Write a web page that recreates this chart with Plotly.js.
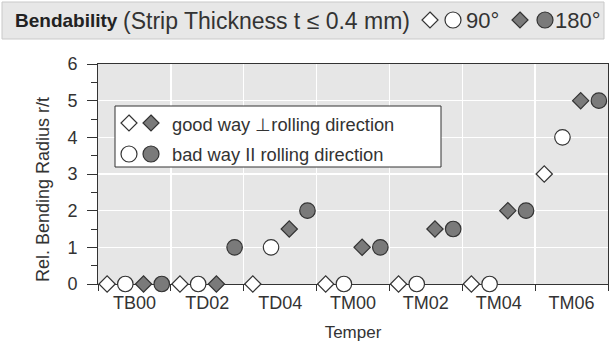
<!DOCTYPE html>
<html>
<head>
<meta charset="utf-8">
<script src="https://cdn.plot.ly/plotly-3.0.1.min.js"></script>
<style>html,body{margin:0;padding:0;background:#fff;}#chart{width:611px;height:342px;}</style>
</head>
<body>
<div id="chart"></div>
<script>
// ---- data ----
const categories = ['TB00', 'TD02', 'TD04', 'TM00', 'TM02', 'TM04', 'TM06'];
const goodWay90  = [0, 0, 0,   0, 0,   0, 3];   // open diamond
const badWay90   = [0, 0, 1,   0, 0,   0, 4];   // open circle
const goodWay180 = [0, 0, 1.5, 1, 1.5, 2, 5];   // filled diamond
const badWay180  = [0, 1, 2,   1, 1.5, 2, 5];   // filled circle
const yTicks = [0, 1, 2, 3, 4, 5, 6];

// ---- style ----
const DARK = '#333333';
const GREY_FILL = '#7a7a7a';
const FONT = 'Liberation Sans, Arial, sans-serif';
const W = 611, H = 342;
const M = {l: 98, r: 3, t: 64, b: 58};
const PW = W - M.l - M.r, PH = H - M.t - M.b;
const fx = px => (px - M.l) / PW;
const fy = py => (H - M.b - py) / PH;

function mk(symbol, fill) {
  return {symbol: symbol, size: symbol === 'diamond' ? 12.5 : 15.5, color: fill,
          line: {color: DARK, width: 1.2}};
}
const series = [
  {y: goodWay90,  m: mk('diamond', '#ffffff')},
  {y: badWay90,   m: mk('circle', '#ffffff')},
  {y: goodWay180, m: mk('diamond', GREY_FILL)},
  {y: badWay180,  m: mk('circle', GREY_FILL)}
];
const traces = series.map((s, i) => ({
  type: 'scatter', mode: 'markers', x: categories, y: s.y,
  offsetgroup: 'g' + i, marker: s.m, cliponaxis: false,
  showlegend: false, hoverinfo: 'x+y'
}));

// legend-key glyphs as pixel-sized shapes
function keyShape(kind, fill, px, py) {
  const base = {xref: 'paper', yref: 'paper', xsizemode: 'pixel', ysizemode: 'pixel',
    xanchor: fx(px), yanchor: fy(py), fillcolor: fill, line: {color: DARK, width: 1.2}, layer: 'above'};
  if (kind === 'circle') return Object.assign(base, {type: 'circle', x0: -8, x1: 8, y0: -8, y1: 8});
  return Object.assign(base, {type: 'path', path: 'M0,8 L8,0 L0,-8 L-8,0 Z'});
}

const shapes = [
  {type: 'rect', xref: 'paper', yref: 'paper', x0: fx(2), x1: fx(604), y0: fy(39), y1: fy(2),
   fillcolor: '#e7e7e7', line: {color: '#c9c9c9', width: 1}, layer: 'above'},
  {type: 'rect', xref: 'paper', yref: 'paper', x0: fx(115), x1: fx(441), y0: fy(167), y1: fy(106),
   fillcolor: '#ffffff', line: {color: DARK, width: 1}, layer: 'above'},
  keyShape('diamond', '#ffffff', 430, 20), keyShape('circle', '#ffffff', 453, 20),
  keyShape('diamond', GREY_FILL, 520, 20), keyShape('circle', GREY_FILL, 545, 20),
  keyShape('diamond', '#ffffff', 129, 123), keyShape('diamond', GREY_FILL, 151, 123),
  keyShape('circle', '#ffffff', 129, 154), keyShape('circle', GREY_FILL, 151, 154)
];

function ann(text, px, py, size, extra) {
  return Object.assign({xref: 'paper', yref: 'paper', x: fx(px), y: fy(py), text: text,
    showarrow: false, xanchor: 'left', yanchor: 'middle', font: {family: FONT, size: size, color: DARK}}, extra || {});
}
const annotations = [
  ann('<b>Bendability</b>', 13, 21, 19, {font: {family: FONT, size: 19, color: '#222222'}}),
  ann('(Strip Thickness t ≤ 0.4 mm)', 121, 21, 23),
  ann('90°', 464, 21, 22),
  ann('180°', 553, 21, 22),
  ann('good way ⊥rolling direction', 170, 124, 18.3),
  ann('bad way II rolling direction', 170, 154, 18.3),
  ann('Rel. Bending Radius r/t', 43, 190, 18, {xanchor: 'center', textangle: -90})
];

const layout = {
  width: W, height: H, margin: M,
  paper_bgcolor: '#ffffff', plot_bgcolor: '#e6e6e6',
  font: {family: FONT, size: 18, color: DARK},
  scattermode: 'group', scattergap: 0,
  showlegend: false,
  xaxis: {
    type: 'category', categoryorder: 'array', categoryarray: categories,
    range: [-0.5, categories.length - 0.5], tickson: 'boundaries',
    ticks: 'outside', ticklen: 6, tickwidth: 1, tickcolor: DARK, ticklabelstandoff: 2,
    showline: true, linecolor: DARK, linewidth: 1, mirror: true,
    showgrid: true, gridcolor: '#ffffff', gridwidth: 1.5,
    tickfont: {family: FONT, size: 18, color: DARK},
    title: {text: 'Temper', font: {family: FONT, size: 17, color: DARK}, standoff: 15},
    layer: 'below traces', automargin: false, fixedrange: true
  },
  yaxis: {
    range: [0, 6], tickvals: yTicks, ticktext: yTicks.map(String),
    ticks: 'outside', ticklen: 10, tickwidth: 1, tickcolor: DARK, ticklabelstandoff: 6,
    minor: {dtick: 0.5, ticks: 'outside', ticklen: 6, tickcolor: DARK, showgrid: false},
    showline: true, linecolor: DARK, linewidth: 1, mirror: true,
    showgrid: true, gridcolor: '#ffffff', gridwidth: 1.5, zeroline: false,
    tickfont: {family: FONT, size: 18, color: DARK},
    layer: 'below traces', automargin: false, fixedrange: true
  },
  shapes: shapes,
  annotations: annotations
};

Plotly.newPlot('chart', traces, layout, {staticPlot: true, displayModeBar: false});
</script>
</body>
</html>
